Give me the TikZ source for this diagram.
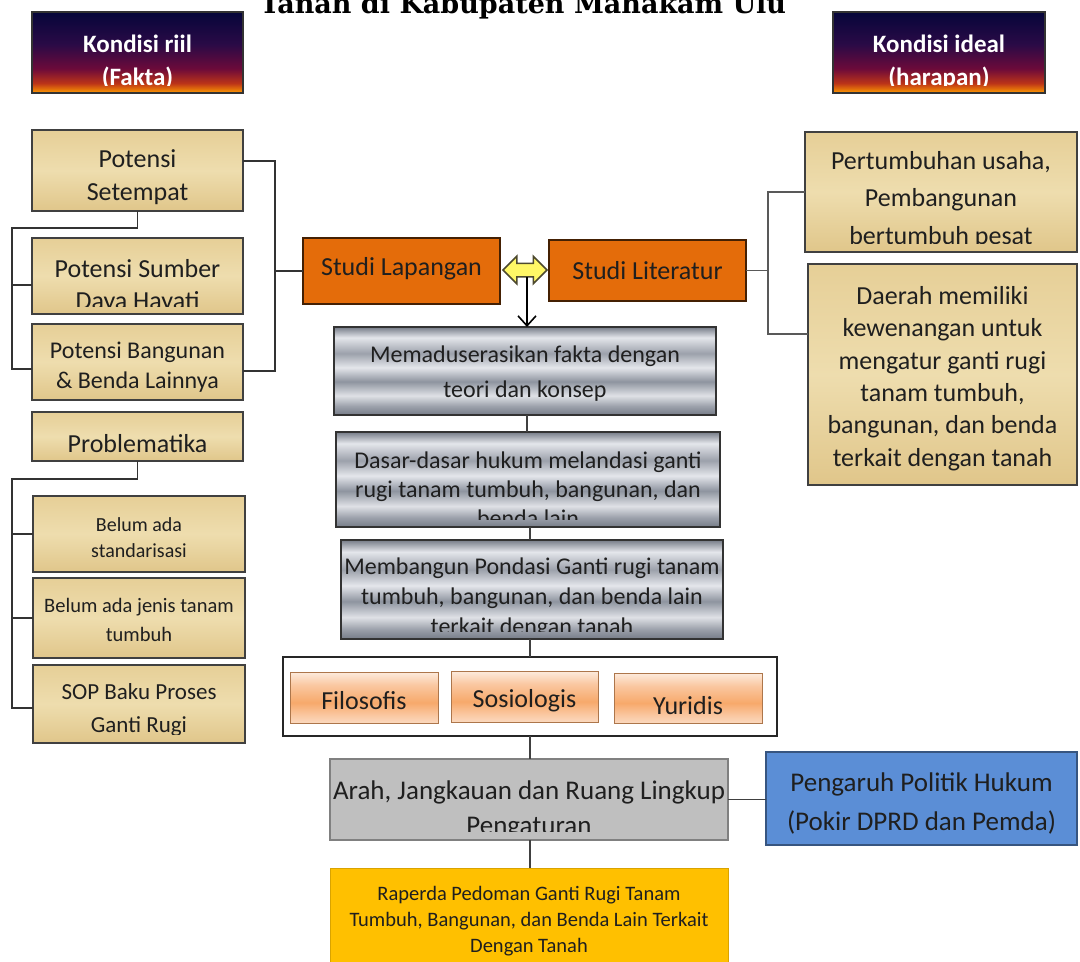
\documentclass[tikz,border=0pt]{standalone}
\usepackage{fontspec}
\setmainfont{Carlito}
\newfontfamily\titlefont{DejaVu Serif}
\usetikzlibrary{shapes.arrows,arrows.meta}
\definecolor{kb1}{HTML}{06063A}
\definecolor{kb2}{HTML}{2A0A46}
\definecolor{kb3}{HTML}{6C0A3A}
\definecolor{kb4}{HTML}{BC3418}
\definecolor{kb5}{HTML}{FF9C00}
\definecolor{mt1}{HTML}{767C88}
\definecolor{mt2}{HTML}{E4E6EB}
\definecolor{mt3}{HTML}{9CA1AB}
\definecolor{mt4}{HTML}{DFE1E6}
\definecolor{mt5}{HTML}{8E949F}
\definecolor{pc1}{HTML}{FDEBDD}
\definecolor{pc2}{HTML}{FAC7A0}
\definecolor{pc3}{HTML}{F7A96B}
\definecolor{pc4}{HTML}{FBD9BF}
\definecolor{pp1}{HTML}{E6CF97}
\definecolor{pp2}{HTML}{EEDDAE}
\definecolor{pp3}{HTML}{E0C68A}
\definecolor{orangebox}{HTML}{E46C0A}
\definecolor{bluebox}{HTML}{5B8ED6}
\definecolor{goldbox}{HTML}{FFC000}
\pgfdeclareverticalshading{kondisi}{100bp}{color(0bp)=(kb5); color(25bp)=(kb5); color(31bp)=(kb4); color(40bp)=(kb3); color(55bp)=(kb2); color(75bp)=(kb1); color(100bp)=(kb1)}
\pgfdeclareverticalshading{metal}{100bp}{color(0bp)=(mt1); color(25bp)=(mt1); color(30bp)=(mt3); color(36bp)=(mt4); color(44bp)=(mt5); color(52bp)=(mt2); color(60bp)=(mt3); color(69bp)=(mt2); color(75bp)=(mt1); color(100bp)=(mt1)}
\pgfdeclareverticalshading{peach}{100bp}{color(0bp)=(pc4); color(25bp)=(pc4); color(33bp)=(pc2); color(45bp)=(pc3); color(62bp)=(pc2); color(75bp)=(pc1); color(100bp)=(pc1)}
\pgfdeclareverticalshading{papyrus}{100bp}{color(0bp)=(pp3); color(25bp)=(pp3); color(50bp)=(pp2); color(75bp)=(pp1); color(100bp)=(pp1)}
\newcommand\bx[6]{\node[#1, anchor=north west, minimum width={(#5)-(#3)}, minimum height={(#6)-(#4)}] (#2) at (#3,#4) {};}
\newcommand\tx[5]{\begin{scope}\clip (#1.north west) rectangle (#1.east |- 0,#2);\node[txt, font=#4] (#1t) at (#1.center |- 0,{#3+2.5}) {#5};\end{scope}}
\begin{document}
\begin{tikzpicture}[x=1pt,y=-1pt,
  base/.style={rectangle, inner sep=0pt, outer sep=0pt},
  kond/.style={base, shading=kondisi, draw=black!80, line width=1.2pt},
  papy/.style={base, shading=papyrus, draw=black!75, line width=1.5pt},
  orbox/.style={base, fill=orangebox, draw=black!70!orangebox, line width=1.3pt},
  metalbox/.style={base, shading=metal, draw=black!80, line width=1.5pt},
  peachbox/.style={base, shading=peach, draw=pc3!70!black, line width=0.8pt},
  contbox/.style={base, fill=white, draw=black!85, line width=1.4pt},
  graybox/.style={base, fill=black!25, draw=black!50, line width=1.3pt},
  bluebx/.style={base, fill=bluebox, draw=bluebox!60!black, line width=1.3pt},
  goldbx/.style={base, fill=goldbox, draw=goldbox!85!black, line width=0.8pt},
  txt/.style={align=center, inner sep=0pt, text=black!88},
  conn/.style={draw=black!80, line width=1.8pt},
  connR/.style={draw=black!65, line width=1.3pt},
  connC/.style={draw=black!75, line width=1.4pt}]
\path[use as bounding box] (0,0) rectangle (1080,962);
\clip (0,0) rectangle (1080,962);
% title
\node[font=\titlefont\bfseries\fontsize{27}{30}\selectfont, anchor=base, text=black] (title) at (523,13) {Tanah di Kabupaten Mahakam Ulu};
% boxes
\bx{kond}{kr}{32}{12}{243}{93}
\bx{kond}{ki}{833}{12}{1045}{93}
\bx{papy}{ps}{32}{130}{243}{211}
\bx{papy}{psd}{32}{238}{243}{314}
\bx{papy}{pb}{32}{324}{243}{400}
\bx{papy}{prob}{32}{412}{243}{461}
\bx{papy}{bone}{33}{496}{245}{572}
\bx{papy}{btwo}{33}{578}{245}{658}
\bx{papy}{sop}{33}{665}{245}{743}
\bx{orbox}{sl}{303}{238}{500}{304}
\bx{orbox}{slit}{549}{240}{746}{301}
\bx{papy}{pert}{805}{132}{1077}{252}
\bx{papy}{daerah}{808}{264}{1077}{485}
\bx{metalbox}{mem}{334}{327}{716}{415}
\bx{metalbox}{dasar}{336}{432}{720}{527}
\bx{metalbox}{memb}{341}{540}{723}{639}
\bx{contbox}{cont}{283}{657}{777}{736}
\bx{peachbox}{filo}{290}{672}{438}{723}
\bx{peachbox}{sosio}{451}{671}{598}{722}
\bx{peachbox}{yur}{614}{673}{762}{723}
\bx{graybox}{arah}{330}{759}{728}{840}
\bx{bluebx}{peng}{766}{752}{1077}{845}
\bx{goldbx}{rap}{330}{868}{728}{990}
% texts
\begin{scope}[txt/.append style={text=white}]
\tx{kr}{85}{59.5}{\bfseries\fontsize{25}{33}\selectfont}{Kondisi riil\\(Fakta)}
\tx{ki}{85}{59.5}{\bfseries\fontsize{25}{33}\selectfont}{Kondisi ideal\\(harapan)}
\end{scope}
\tx{ps}{2000}{174.5}{\fontsize{26}{33}\selectfont}{Potensi\\Setempat}
\tx{psd}{306}{284}{\fontsize{26}{32}\selectfont}{Potensi Sumber\\Daya Hayati}
\tx{pb}{2000}{365}{\fontsize{24}{30}\selectfont}{Potensi Bangunan\\\& Benda Lainnya}
\tx{prob}{2000}{441}{\fontsize{26}{32}\selectfont}{Problematika}
\tx{bone}{2000}{535}{\fontsize{20}{26}\selectfont}{Belum ada\\standarisasi}
\tx{btwo}{2000}{617.5}{\fontsize{20.5}{29}\selectfont}{Belum ada jenis tanam\\tumbuh}
\tx{sop}{734}{707.5}{\fontsize{23}{33}\selectfont}{SOP Baku Proses\\Ganti Rugi}
\tx{sl}{2000}{266}{\fontsize{26}{32}\selectfont}{Studi Lapangan}
\tx{slit}{2000}{268}{\fontsize{26}{32}\selectfont}{Studi Literatur}
\tx{pert}{243}{197.5}{\fontsize{26}{37.5}\selectfont}{Pertumbuhan usaha,\\Pembangunan\\bertumbuh pesat}
\tx{daerah}{2000}{376}{\fontsize{26}{32.4}\selectfont}{Daerah memiliki\\kewenangan untuk\\mengatur ganti rugi\\tanam tumbuh,\\bangunan, dan benda\\terkait dengan tanah}
\tx{mem}{2000}{371.5}{\fontsize{24}{35}\selectfont}{Memaduserasikan fakta dengan\\teori dan konsep}
\tx{dasar}{519}{487}{\fontsize{24}{29}\selectfont}{Dasar-dasar hukum melandasi ganti\\rugi tanam tumbuh, bangunan, dan\\benda lain}
\tx{memb}{631}{596}{\fontsize{24}{30}\selectfont}{Membangun Pondasi Ganti rugi tanam\\tumbuh, bangunan, dan benda lain\\terkait dengan tanah}
\tx{filo}{2000}{698}{\fontsize{26}{32}\selectfont}{Filosofis}
\tx{sosio}{2000}{698}{\fontsize{26}{32}\selectfont}{Sosiologis}
\tx{yur}{2000}{703}{\fontsize{26}{32}\selectfont}{Yuridis}
\tx{arah}{831}{807.5}{\fontsize{27}{35}\selectfont}{Arah, Jangkauan dan Ruang Lingkup\\Pengaturan}
\tx{peng}{2000}{800.5}{\fontsize{27}{39}\selectfont}{Pengaruh Politik Hukum\\(Pokir DPRD dan Pemda)}
\tx{rap}{2000}{919}{\fontsize{20.5}{26}\selectfont}{Raperda Pedoman Ganti Rugi Tanam\\Tumbuh, Bangunan, dan Benda Lain Terkait\\Dengan Tanah}
% left connectors
\draw[conn] ([yshift=9.5pt]ps.east) -- ++(32,0) coordinate (jL) |- ([yshift=-9pt]pb.east);
\draw[conn] (jL |- sl.west) -- (sl.west);
\coordinate (busL) at (12,228);
\draw[conn] (ps.south) |- (busL) |- ([yshift=-7pt]pb.west);
\draw[conn] (busL |- 0,285) -- (psd.west |- 0,285);
\coordinate (busP) at (12,479);
\draw[conn] (prob.south) |- (busP) |- ([yshift=-4pt]sop.west);
\draw[conn] (busP |- bone.west) -- (bone.west);
\draw[conn] (busP |- btwo.west) -- (btwo.west);
% right connectors
\draw[connR] (slit.east) -- ++(22,0) coordinate (jR);
\draw[connR] (pert.west) -| (jR) |- ([yshift=40.5pt]daerah.west);
% double arrow and down arrow
\node[double arrow, fill=yellow!60, draw=black!60!olive, line width=1.5pt, minimum height=44pt, minimum width=26pt, inner sep=6pt, double arrow head extend=7pt, outer sep=0pt] (dbl) at (525,270) {};
\draw[line width=1.6pt, -{Straight Barb[length=10pt, width=18pt, line width=1.6pt]}] (527,277) -- (mem.north -| 527,0);
% center connectors
\draw[connC] (mem.south -| 527,0) -- (dasar.north -| 527,0);
\draw[connC] (dasar.south -| 530,0) -- (memb.north -| 530,0);
\draw[connC] (memb.south -| 530,0) -- (cont.north -| 530,0);
\draw[connC] (cont.south -| 530,0) -- (arah.north -| 530,0);
\draw[connC] (arah.east) -- (arah.east -| peng.west);
\draw[connC] (arah.south -| 530,0) -- (rap.north -| 530,0);
\end{tikzpicture}
\end{document}
